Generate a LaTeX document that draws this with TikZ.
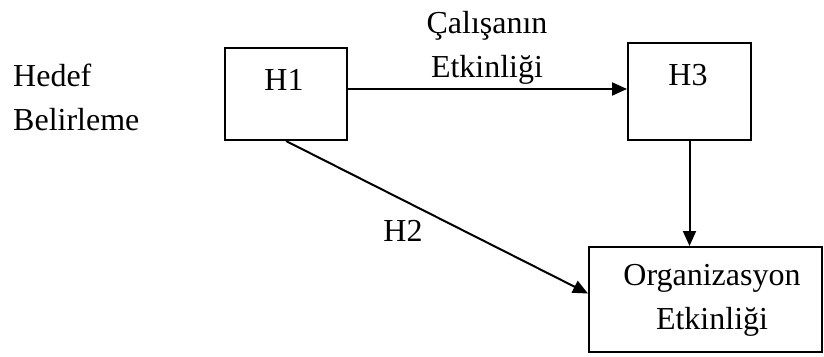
\documentclass[tikz,border=0pt]{standalone}
\usepackage{fontspec}
\setmainfont{Liberation Serif}
\usetikzlibrary{arrows.meta,calc}
\begin{document}
\begin{tikzpicture}[x=1pt,y=-1pt,
  box/.style={draw,line width=2pt,rectangle,inner sep=0pt},
  lbl/.style={font=\fontsize{32}{44}\selectfont,inner sep=0pt,align=center},
  arr/.style={line width=2pt,-{Triangle[length=15pt,width=13pt]}}]
\useasboundingbox (0,0) rectangle (824,356);
\node[box,minimum width=122pt,minimum height=92pt] (h1) at (286,94) {};
\node[box,minimum width=123pt,minimum height=97pt] (h3) at (689.5,91.5) {};
\node[box,minimum width=233pt,minimum height=105pt] (org) at (705.5,299.5) {};
\node[lbl] (h1t) at (284,80) {H1};
\node[lbl] (h3t) at (688,75) {H3};
\node[lbl] (orgt) at (712,300) {Organizasyon\\Etkinliği};
\node[lbl,align=left,anchor=west] (hedef) at (13,97) {Hedef\\Belirleme};
\node[lbl] (cal) at (487,48) {Çalışanın\\Etkinliği};
\node[lbl] (h2) at (403,231) {H2};
\draw[arr] ($(h1.east)+(0,5pt)$) -- ($(h1.east -| h3.west)+(0,5pt)$);
\draw[arr] (h3.south) -- (h3.south |- org.north);
\draw[arr] (h1.south) -- ($(org.west)+(0,6pt)$);
\end{tikzpicture}
\end{document}
